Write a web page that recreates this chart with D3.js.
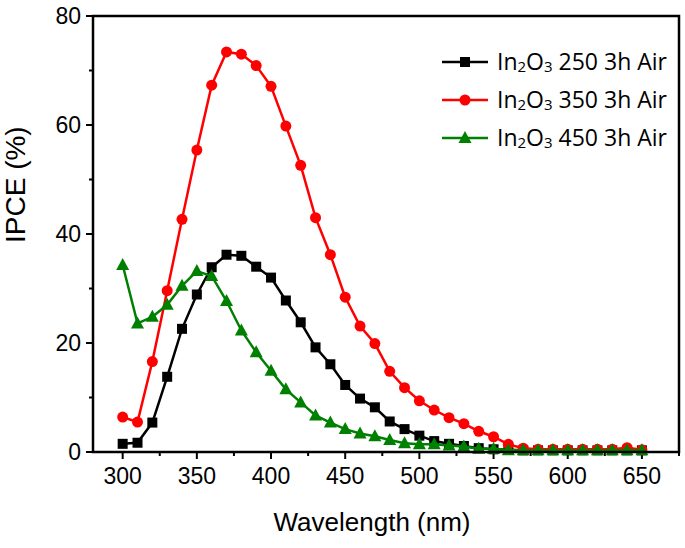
<!DOCTYPE html>
<html><head><meta charset="utf-8">
<script src="https://cdn.jsdelivr.net/npm/d3@7/dist/d3.min.js"></script>
<style>body{margin:0;background:#fff}svg{display:block}</style>
</head><body>
<svg id="c" width="685" height="548"></svg>
<script>
const wavelengths = d3.range(300, 651, 10);
const series250 = [1.5,1.7,5.4,13.8,22.6,28.9,33.9,36.2,36.0,34.0,32.0,27.8,23.8,19.2,16.1,12.3,9.8,8.2,5.6,4.2,3.0,2.0,1.5,1.1,0.7,0.5,0.4,0.3,0.3,0.3,0.3,0.3,0.3,0.3,0.3,0.3];
const series350 = [6.4,5.5,16.6,29.6,42.7,55.4,67.3,73.4,73.0,70.9,67.1,59.8,52.6,43.0,36.2,28.4,23.1,19.9,14.8,11.8,9.4,7.7,6.3,5.2,3.8,2.8,1.4,0.7,0.5,0.5,0.5,0.5,0.5,0.5,0.8,0.4];
const series450 = [34.3,23.6,24.8,27.0,30.5,33.2,32.3,27.7,22.3,18.3,14.9,11.5,9.1,6.7,5.4,4.2,3.4,2.9,2.2,1.6,1.4,1.4,1.2,1.0,0.6,0.6,0.3,0.3,0.3,0.3,0.3,0.3,0.3,0.3,0.3,0.3];
const seriesNames = ["250","350","450"];
const seriesColors = ["#000000","#ff0000","#008000"];
const seriesShapes = ["square","circle","triangle"];
const xTicks = [300,350,400,450,500,550,600,650];
const yTicks = [0,20,40,60,80];

const svg = d3.select("#c");
const L=93, R=679, T=16, B=452;
const x = d3.scaleLinear().domain([280,675]).range([L,R]);
const y = d3.scaleLinear().domain([0,80]).range([B,T]);
const font = "'Liberation Sans', Arial, sans-serif";

const xMinor = d3.range(325, 676, 50);
const yMinor = [10,30,50,70];
const axisG = svg.append("g");
axisG.selectAll(".xmaj").data(xTicks).join("line")
  .attr("x1",d=>x(d)).attr("x2",d=>x(d)).attr("y1",B).attr("y2",B+7)
  .attr("stroke","#000").attr("stroke-width",2);
axisG.selectAll(".xmin").data(xMinor).join("line")
  .attr("x1",d=>x(d)).attr("x2",d=>x(d)).attr("y1",B).attr("y2",B+4)
  .attr("stroke","#000").attr("stroke-width",2);
axisG.selectAll(".ymaj").data(yTicks).join("line")
  .attr("x1",L-7).attr("x2",L).attr("y1",d=>y(d)).attr("y2",d=>y(d))
  .attr("stroke","#000").attr("stroke-width",2);
axisG.selectAll(".ymin").data(yMinor).join("line")
  .attr("x1",L-4).attr("x2",L).attr("y1",d=>y(d)).attr("y2",d=>y(d))
  .attr("stroke","#000").attr("stroke-width",2);

axisG.selectAll(".xl").data(xTicks).join("text")
  .attr("x",d=>x(d)).attr("y",484).attr("text-anchor","middle")
  .attr("font-family",font).attr("font-size",23).text(d=>d);
axisG.selectAll(".yl").data(yTicks).join("text")
  .attr("x",L-12).attr("y",d=>y(d)+8).attr("text-anchor","end")
  .attr("font-family",font).attr("font-size",23).text(d=>d);

svg.append("text").attr("x",372).attr("y",531).attr("text-anchor","middle")
  .attr("font-family",font).attr("font-size",26).text("Wavelength (nm)");
svg.append("text").attr("transform",`translate(25,243) rotate(-90)`).attr("text-anchor","start")
  .attr("font-family",font).attr("font-size",28).text("IPCE (%)");

function marker(g, shape, color, cx, cy){
  if(shape==="square") g.append("rect").attr("x",cx-5).attr("y",cy-5).attr("width",10).attr("height",10).attr("fill",color);
  else if(shape==="circle") g.append("circle").attr("cx",cx).attr("cy",cy).attr("r",5.5).attr("fill",color);
  else g.append("path").attr("d",`M${cx},${cy-7}L${cx+6.5},${cy+5}L${cx-6.5},${cy+5}Z`).attr("fill",color);
}

const allSeries = [series250, series350, series450];
const line = d3.line().x(d=>x(d[0])).y(d=>y(d[1]));
allSeries.forEach((vals,i)=>{
  const pts = wavelengths.map((w,j)=>[w, vals[j]]);
  const g = svg.append("g");
  g.append("path").attr("d",line(pts)).attr("fill","none").attr("stroke",seriesColors[i]).attr("stroke-width",2.5);
  pts.forEach(p=>marker(g, seriesShapes[i], seriesColors[i], x(p[0]), y(p[1])));
});

svg.append("rect").attr("x",L).attr("y",T).attr("width",R-L).attr("height",B-T)
  .attr("fill","none").attr("stroke","#000").attr("stroke-width",2.5);

const legFont = "'Open Sans', 'Noto Sans', sans-serif";
const legY = [62,100,138];
seriesNames.forEach((n,i)=>{
  const g = svg.append("g");
  g.append("line").attr("x1",442).attr("x2",488).attr("y1",legY[i]).attr("y2",legY[i]).attr("stroke",seriesColors[i]).attr("stroke-width",2.5);
  marker(g, seriesShapes[i], seriesColors[i], 465, legY[i]);
  const t = g.append("text").attr("x",497).attr("y",legY[i]+8).attr("font-family",legFont).attr("font-size",23).attr("fill","#000");
  t.append("tspan").text("In");
  t.append("tspan").attr("font-size",15).attr("dy",2).text("2");
  t.append("tspan").attr("dy",-2).text("O");
  t.append("tspan").attr("font-size",15).attr("dy",2).text("3");
  t.append("tspan").attr("dy",-2).text(` ${n} 3h Air`);
});
</script>
</body></html>
